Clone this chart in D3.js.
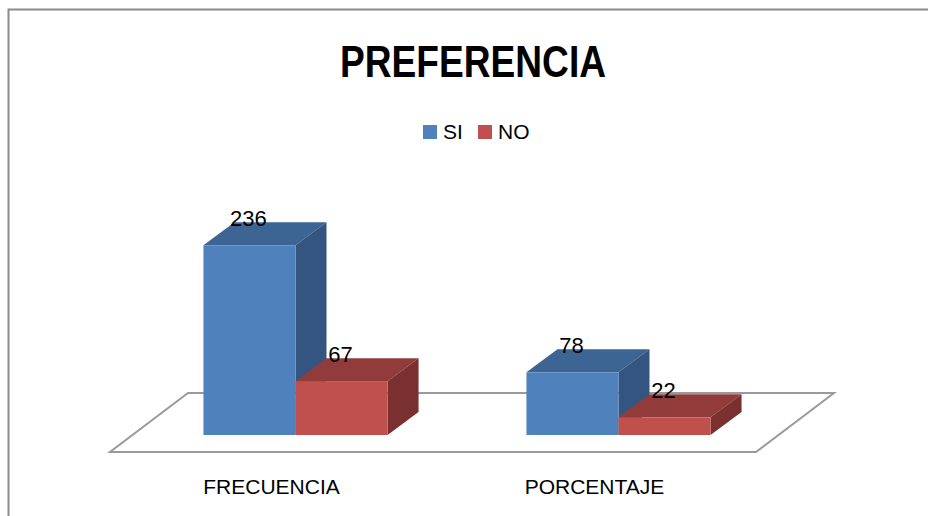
<!DOCTYPE html>
<html>
<head>
<meta charset="utf-8">
<script src="https://cdn.jsdelivr.net/npm/d3@7"></script>
<style>
  body { margin: 0; background: #fff; }
  svg { display: block; font-family: "Liberation Sans", Arial, sans-serif; }
</style>
</head>
<body>
<script>
// Chart data
const categories = ["FRECUENCIA", "PORCENTAJE"];
const seriesNames = ["SI", "NO"];
const siValues = [236, 78];
const noValues = [67, 22];
const title = "PREFERENCIA";

// Face colours per series: front, top, side
const palette = {
  SI: { front: "#4F81BD", top: "#3D6594", side: "#34557F" },
  NO: { front: "#C0504D", top: "#913C3A", side: "#7A302E" }
};

const w = 928;
const h = 516;
// 3D depth offset of the bars
const depth = { dx: 31, dy: -23 };

const svg = d3.select("body")
  .append("svg")
  .attr("width", w)
  .attr("height", h);

// Outer chart border
svg.append("rect")
  .attr("x", 8.5)
  .attr("y", 9.5)
  .attr("width", 960)
  .attr("height", 560)
  .attr("fill", "none")
  .attr("stroke", "#8a8a8a")
  .attr("stroke-width", 2);

// Scales
const xScale = d3.scaleBand()
  .domain(categories)
  .range([134, 780])
  .paddingInner(0.43)
  .paddingOuter(0.215);

const xSeries = d3.scaleBand()
  .domain(seriesNames)
  .range([0, xScale.bandwidth()]);

const yScale = d3.scaleLinear()
  .domain([0, 250])
  .range([435, 234]);

// Floor
const [x0, x1] = xScale.range();
const base = yScale(0);
const floor = [
  [x0 - 24, base + 17],
  [x1 - 24, base + 17],
  [x1 + 54, base - 42],
  [x0 + 54, base - 42]
];
svg.append("path")
  .attr("d", "M" + floor.join("L") + "Z")
  .attr("fill", "#fff")
  .attr("stroke", "#9a9a9a")
  .attr("stroke-width", 2);

// Flatten to one record per bar
const bars = [];
categories.forEach((c, i) => {
  bars.push({ cat: c, series: "SI", value: siValues[i] });
  bars.push({ cat: c, series: "NO", value: noValues[i] });
});

const poly = pts => "M" + pts.map(p => p.join(",")).join("L") + "Z";

const g = svg.selectAll(".bar")
  .data(bars)
  .enter()
  .append("g")
  .attr("class", "bar");

// top face
g.append("path")
  .attr("d", d => {
    const l = xScale(d.cat) + xSeries(d.series);
    const r = l + xSeries.bandwidth();
    const t = yScale(d.value);
    return poly([[l, t], [r, t], [r + depth.dx, t + depth.dy], [l + depth.dx, t + depth.dy]]);
  })
  .attr("fill", d => palette[d.series].top);

// side face
g.append("path")
  .attr("d", d => {
    const r = xScale(d.cat) + xSeries(d.series) + xSeries.bandwidth();
    const t = yScale(d.value);
    return poly([[r, t], [r + depth.dx, t + depth.dy], [r + depth.dx, base + depth.dy], [r, base]]);
  })
  .attr("fill", d => palette[d.series].side);

// front face
g.append("rect")
  .attr("x", d => xScale(d.cat) + xSeries(d.series))
  .attr("y", d => yScale(d.value))
  .attr("width", xSeries.bandwidth())
  .attr("height", d => base - yScale(d.value))
  .attr("fill", d => palette[d.series].front);

// Value labels
svg.selectAll(".value")
  .data(bars)
  .enter()
  .append("text")
  .attr("class", "value")
  .attr("x", d => xScale(d.cat) + xSeries(d.series) + xSeries.bandwidth() / 2 - 1)
  .attr("y", d => yScale(d.value) + depth.dy + 4)
  .attr("text-anchor", "middle")
  .attr("font-size", 22)
  .attr("fill", "#000")
  .text(d => d.value);

// Category labels
svg.selectAll(".cat")
  .data(categories)
  .enter()
  .append("text")
  .attr("class", "cat")
  .attr("x", d => xScale(d) + xScale.bandwidth() / 2 - 24)
  .attr("y", 494)
  .attr("text-anchor", "middle")
  .attr("font-size", 21)
  .attr("fill", "#000")
  .text(d => d);

// Title
svg.append("text")
  .attr("x", 473)
  .attr("y", 77)
  .attr("text-anchor", "middle")
  .attr("font-family", "'Liberation Sans Narrow', 'Liberation Sans', Arial, sans-serif")
  .attr("font-weight", "bold")
  .attr("font-size", 45)
  .attr("textLength", 266)
  .attr("lengthAdjust", "spacingAndGlyphs")
  .text(title);

// Legend
const legend = svg.selectAll(".legend")
  .data(seriesNames)
  .enter()
  .append("g")
  .attr("class", "legend")
  .attr("transform", (d, i) => `translate(${423 + i * 55}, 125)`);

legend.append("rect")
  .attr("width", 14)
  .attr("height", 14)
  .attr("fill", d => palette[d].front);

legend.append("text")
  .attr("x", 20)
  .attr("y", 14)
  .attr("font-size", 21)
  .attr("fill", "#000")
  .text(d => d);
</script>
</body>
</html>
